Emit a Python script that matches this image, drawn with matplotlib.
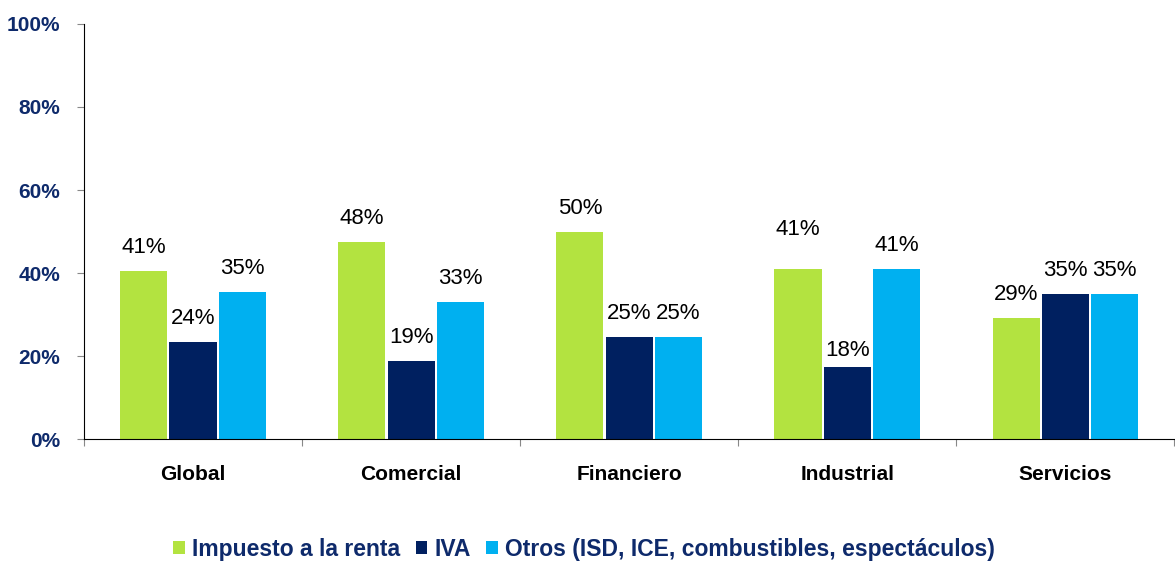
import matplotlib
matplotlib.use("Agg")
import matplotlib.pyplot as plt
import numpy as np
from matplotlib.patches import Patch

plt.rcParams["font.family"] = ["Liberation Sans", "DejaVu Sans"]

categories = ["Global", "Comercial", "Financiero", "Industrial", "Servicios"]
series_names = ["Impuesto a la renta", "IVA",
                "Otros (ISD, ICE, combustibles, espectáculos)"]
renta = [40.5, 47.5, 49.9, 41.0, 29.2]
iva = [23.4, 18.8, 24.6, 17.3, 35.0]
otros = [35.4, 33.0, 24.6, 41.0, 35.0]
renta_lbl = ["41%", "48%", "50%", "41%", "29%"]
iva_lbl = ["24%", "19%", "25%", "18%", "35%"]
otros_lbl = ["35%", "33%", "25%", "41%", "35%"]

COLORS = ["#B3E340", "#002060", "#00B0F0"]
NAVY = "#0E2A6B"

fig = plt.figure(figsize=(11.75, 5.63), dpi=100)
ax = fig.add_axes([0.0715, 0.2202, 0.928, 0.7372])

x = np.arange(len(categories))
w = 0.216
gap = 0.01
values = [renta, iva, otros]
labels = [renta_lbl, iva_lbl, otros_lbl]
# per-label vertical nudges (points) where the original labels sit differently
nudge = {(0, 3): 28, (1, 3): 12}
for i, (vals, lbls, col) in enumerate(zip(values, labels, COLORS)):
    xs = x + (i - 1) * (w + gap)
    ax.bar(xs, vals, width=w, color=col, edgecolor="none")
    for j, (xi, v, t) in enumerate(zip(xs, vals, lbls)):
        off = nudge.get((i, j), 17)
        ax.annotate(t, (xi, v), textcoords="offset points", xytext=(0, off),
                    ha="center", va="center", fontsize=16, color="black")

ax.set_xlim(-0.5, len(categories) - 0.5)
ax.set_ylim(0, 100)
ax.set_yticks(range(0, 101, 20))
ax.set_yticklabels([f"{v}%" for v in range(0, 101, 20)], fontsize=15,
                   fontweight="bold", color=NAVY)
ax.tick_params(axis="y", direction="out", length=5, color="#888888", pad=12)

ax.set_xticks(np.arange(-0.5, len(categories), 1.0))
ax.set_xticklabels([])
ax.tick_params(axis="x", direction="out", length=5, color="#888888")
for xi, c in zip(x, categories):
    ax.text(xi, -8.5, c, ha="center", va="center", fontsize=15,
            fontweight="bold", color="black")

for s in ["top", "right"]:
    ax.spines[s].set_visible(False)
ax.spines["left"].set_color("black")
ax.spines["bottom"].set_color("black")

handles = [Patch(facecolor=c, edgecolor="none") for c in COLORS]
leg = fig.legend(handles, series_names, loc="center", bbox_to_anchor=(0.497, 0.024),
                 ncol=3, frameon=False, handlelength=0.5, handleheight=0.5,
                 handletextpad=0.3, columnspacing=0.7,
                 prop={"size": 16.5, "weight": "bold"})
for t in leg.get_texts():
    t.set_color(NAVY)

fig.savefig("out.png", dpi=100)
